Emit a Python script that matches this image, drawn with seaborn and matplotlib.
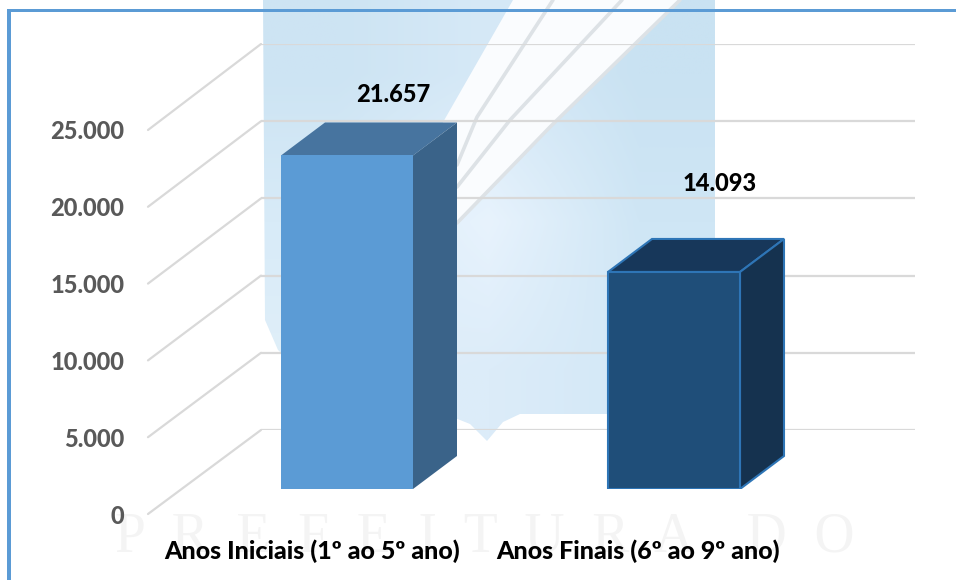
import numpy as np
import seaborn as sns
import matplotlib
matplotlib.use("Agg")
import matplotlib.pyplot as plt
from matplotlib.colors import to_rgb
from matplotlib.patches import ConnectionPatch, Polygon
from matplotlib.ticker import FuncFormatter

categories = ["Anos Iniciais (1º ao 5º ano)", "Anos Finais (6º ao 9º ano)"]
values = [21657, 14093]
value_labels = ["21.657", "14.093"]
y_ticks = [0, 5000, 10000, 15000, 20000, 25000]

front_colors = ["#5b9bd5", "#1f4e79"]
top_colors = ["#47749f", "#17375a"]
side_colors = ["#3a6389", "#15324f"]
edge_colors = ["none", "#2e75b6"]

W, H = 956, 580
PX_PER_UNIT = 77 / 5000


def px_rect(left, top, right, bottom):
    return [left / W, 1 - bottom / H, (right - left) / W, (bottom - top) / H]


sns.set_theme(style="white")
plt.rcParams["font.family"] = ["Lato", "DejaVu Sans"]

fig = plt.figure(figsize=(W / 100, H / 100), dpi=100, facecolor="white")

# Watermark behind the chart, in pixel coordinates
ax_bg = fig.add_axes([0, 0, 1, 1], zorder=0)
ax_bg.set_xlim(0, W)
ax_bg.set_ylim(H, 0)
ax_bg.axis("off")

shade = [
    ["#cde4f3", "#d6e9f7", "#c9e2f2"],
    ["#d8ebf8", "#e8f3fd", "#cfe6f5"],
    ["#e0eff9", "#dcecf9", "#d3e8f7"],
]
shade = np.array([[to_rgb(c) for c in row] for row in shade])
img = ax_bg.imshow(shade, extent=(263, 715, 445, 0), interpolation="bilinear", aspect="auto", zorder=0)
outline = [(263, 0), (715, 0), (715, 414), (520, 414), (503, 422), (487, 441), (470, 424), (450, 416),
           (310, 380), (278, 350), (265, 320)]
img.set_clip_path(Polygon(outline, transform=ax_bg.transData))
ax_bg.set_xlim(0, W)
ax_bg.set_ylim(H, 0)

line1 = [(553, 0), (477, 117), (457, 165)]
line2 = [(622, 0), (510, 120), (457, 187)]
line3 = [(680, 0), (550, 127), (457, 223)]
edge0 = [(513, 0), (450, 110), (430, 145)]
for left, right in [(edge0, line1), (line1, line2), (line2, line3)]:
    ax_bg.add_patch(Polygon(left + right[::-1], facecolor="#fafcfe", edgecolor="none", zorder=1))
for ln in [line1, line2, line3]:
    xs, ys = zip(*ln)
    ax_bg.plot(xs, ys, color="#dde2e6", lw=2.6, zorder=1.5)

ax_bg.text(485, 538, "P  R  E  F  E  I  T  U  R  A    D  O", family="Liberation Serif", fontsize=40,
           color="#f4f4f4", ha="center", va="center", zorder=1)

# Frame on the left and top
ax_bg.axvspan(7, 11, ymin=0, ymax=1 - 9 / H, color="#5b9bd5", lw=0, zorder=2)
ax_bg.axhspan(9, 12, xmin=7 / W, xmax=1, color="#5b9bd5", lw=0, zorder=2)

# Back wall with the gridlines
ax_wall = fig.add_axes(px_rect(261, 44, 915, 430), zorder=1)
ax_wall.patch.set_alpha(0)
ax_wall.set_ylim(0, 25000)
ax_wall.set_xlim(0, 1)
ax_wall.set_yticks(y_ticks)
ax_wall.set_xticks([])
ax_wall.tick_params(left=False, labelleft=False)
ax_wall.grid(axis="y", color="#d9d9d9", lw=1.6)
sns.despine(ax=ax_wall, left=True, bottom=True)

# Front plane carries the tick labels
ax_front = fig.add_axes(px_rect(148, 130, 802, 514), zorder=2)
ax_front.patch.set_alpha(0)
ax_front.set_ylim(0, 25000)
ax_front.set_xlim((148 - 312) / 326, (802 - 312) / 326)
ax_front.set_yticks(y_ticks)
ax_front.yaxis.set_major_formatter(FuncFormatter(lambda v, _: f"{int(v):,}".replace(",", ".")))
ax_front.set_xticks([0, 1], categories)
ax_front.tick_params(axis="y", length=0, pad=17, labelsize=17, labelcolor="#595959")
ax_front.tick_params(axis="x", length=0, pad=18, labelsize=18, labelcolor="black")
for lab in ax_front.get_yticklabels() + ax_front.get_xticklabels():
    lab.set_fontweight("black")
sns.despine(ax=ax_front, left=True, bottom=True)

front_left = ax_front.get_xlim()[0]
for v in y_ticks:
    fig.add_artist(ConnectionPatch(xyA=(front_left, v), coordsA=ax_front.transData, xyB=(0, v),
                                   coordsB=ax_wall.transData, color="#d9d9d9", lw=1.6))

# Bars
ax_bar = fig.add_axes(px_rect(0, 0, W, 489), zorder=3)
ax_bar.patch.set_alpha(0)
sns.barplot(x=categories, y=values, hue=categories, palette=front_colors, width=132 / 327, legend=False,
            saturation=1, ax=ax_bar)
ax_bar.set_xlim(-347 / 327, (W - 347) / 327)
ax_bar.set_ylim(0, 489 / PX_PER_UNIT)
ax_bar.axis("off")

dx = 44 / 327
dy = 33 / PX_PER_UNIT
label_lift = [61, 88]
for i, bar in enumerate(ax_bar.patches):
    x0, x1, h = bar.get_x(), bar.get_x() + bar.get_width(), bar.get_height()
    bar.set_edgecolor(edge_colors[i])
    bar.set_linewidth(1.5)
    bar.set_zorder(4)
    ax_bar.add_patch(Polygon([(x0, h), (x1, h), (x1 + dx, h + dy), (x0 + dx, h + dy)], facecolor=top_colors[i],
                             edgecolor=edge_colors[i], lw=1.5, zorder=3))
    ax_bar.add_patch(Polygon([(x1, 0), (x1 + dx, dy), (x1 + dx, h + dy), (x1, h)], facecolor=side_colors[i],
                             edgecolor=edge_colors[i], lw=1.5, zorder=3))
    ax_bar.annotate(value_labels[i], xy=((x0 + x1) / 2, h), xytext=(46 * 0.72, label_lift[i] * 0.72),
                    textcoords="offset points", ha="center", va="center", fontsize=17, fontweight="black",
                    color="black")

fig.savefig("out.png", dpi=100)
